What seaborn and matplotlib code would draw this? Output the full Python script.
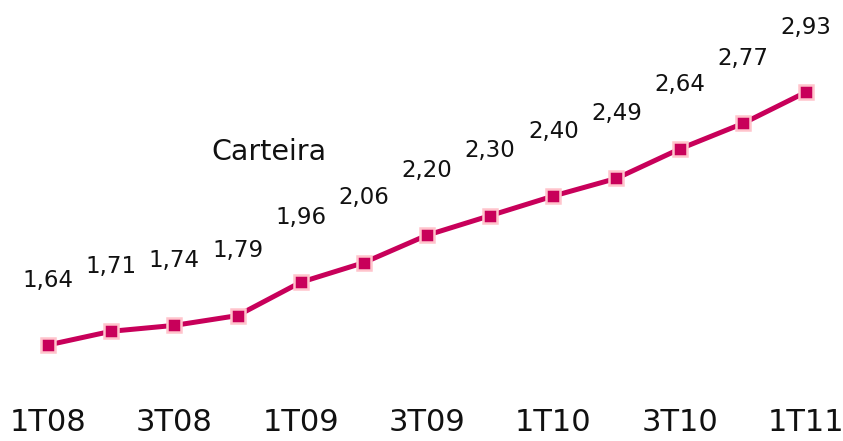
import matplotlib
matplotlib.use("Agg")
import matplotlib.pyplot as plt
import seaborn as sns
import pandas as pd

quarters = ["1T08", "2T08", "3T08", "4T08", "1T09", "2T09", "3T09", "4T09",
            "1T10", "2T10", "3T10", "4T10", "1T11"]
values = [1.64, 1.71, 1.74, 1.79, 1.96, 2.06, 2.20, 2.30, 2.40, 2.49, 2.64, 2.77, 2.93]
tick_labels = ["1T08", "3T08", "1T09", "3T09", "1T10", "3T10", "1T11"]
series_name = "Carteira"

sns.set_theme(style="white")
plt.rcParams['font.family'] = ['DejaVu Sans']

df = pd.DataFrame({"idx": range(len(quarters)), "q": quarters, "v": values})

fig = plt.figure(figsize=(8.43, 4.41), dpi=100)
ax = fig.add_axes([0, 51 / 441, 1, 390 / 441])

line_color = "#C8005A"
sns.lineplot(data=df, x="idx", y="v", ax=ax, color=line_color, linewidth=3.6,
             marker="s", markersize=9.5, markeredgecolor="#FFC4CC",
             markeredgewidth=1.8, markerfacecolor=line_color)

for i, v in zip(df["idx"], df["v"]):
    ax.annotate(f"{v:.2f}".replace(".", ","), (i, v), xytext=(0, 42),
                textcoords="offset points", ha="center", va="baseline",
                fontsize=16.5, color="#111111")

ax.text(3.5, 2.585, series_name, ha="center", va="baseline", fontsize=20.5, color="#111111")

ax.set_xlim(-0.76, 12.586)
ax.set_ylim(1.4104, 3.40)
ticks = [quarters.index(t) for t in tick_labels]
ax.set_xticks(ticks)
ax.set_xticklabels(tick_labels, fontsize=22, color="#111111")
ax.tick_params(axis="x", length=0, pad=13)
ax.set_yticks([])
ax.set_xlabel("")
ax.set_ylabel("")
for s in ax.spines.values():
    s.set_visible(False)

fig.savefig("out.png", dpi=100)
